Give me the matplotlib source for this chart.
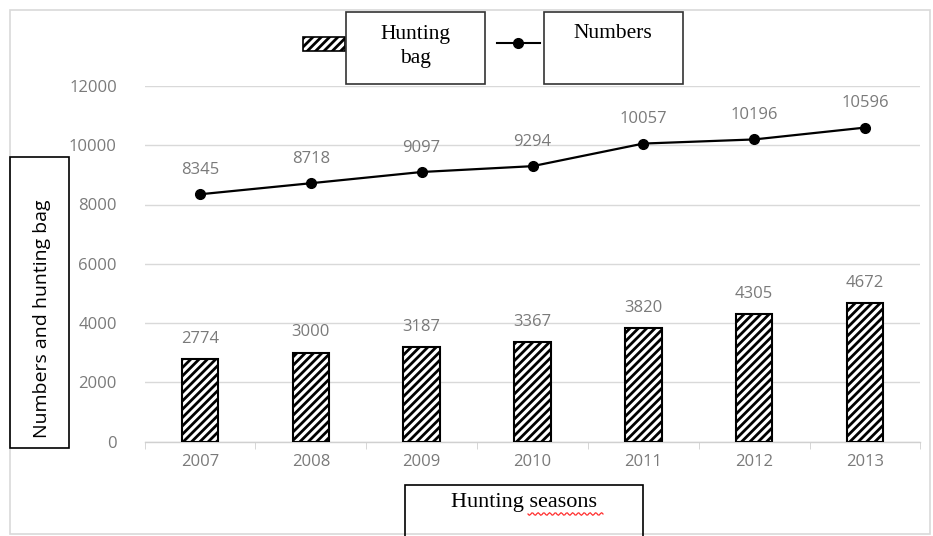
import matplotlib
matplotlib.use("Agg")
import matplotlib.pyplot as plt
from matplotlib.patches import Rectangle
from matplotlib.lines import Line2D
import numpy as np

seasons = ["2007", "2008", "2009", "2010", "2011", "2012", "2013"]
hunting_bag = [2774, 3000, 3187, 3367, 3820, 4305, 4672]
numbers = [8345, 8718, 9097, 9294, 10057, 10196, 10596]
y_ticks = [0, 2000, 4000, 6000, 8000, 10000, 12000]

W, H = 933, 536
plt.rcParams['hatch.linewidth'] = 2.0
fig = plt.figure(figsize=(W / 100, H / 100), dpi=100)
fig.patch.set_facecolor('white')

def fx(px):
    return px / W

def fy(py):
    return 1 - py / H

# outer chart border
fig.add_artist(Rectangle((fx(10), fy(534)), fx(920), (524) / H, transform=fig.transFigure,
                         fill=False, edgecolor='#d9d9d9', linewidth=1.2))

ax = fig.add_axes([fx(144.6), fy(441.5), 775.8 / W, 355.5 / H])
x = np.arange(len(seasons))
gray = '#7a7a7a'
sans = ['Open Sans', 'DejaVu Sans']
serif = ['Liberation Serif', 'DejaVu Serif']

ax.bar(x, hunting_bag, width=0.33, color='white', edgecolor='black', hatch='////',
       linewidth=1.5, zorder=3)
ax.plot(x, numbers, color='black', linewidth=1.6, marker='o', markersize=7,
        zorder=4)

for xi, v in zip(x, hunting_bag):
    ax.annotate(str(v), (xi, v), xytext=(0, 14.5), textcoords='offset points',
                ha='center', va='center', color=gray, fontsize=12, family=sans)
for xi, v in zip(x, numbers):
    ax.annotate(str(v), (xi, v), xytext=(0, 17.5), textcoords='offset points',
                ha='center', va='center', color=gray, fontsize=12, family=sans)

ax.set_xlim(-0.5, len(seasons) - 0.5)
ax.set_ylim(0, 12000)
ax.set_yticks(y_ticks)
ax.set_yticklabels([str(t) for t in y_ticks], family=sans, fontsize=12, color=gray)
ax.set_xticks(x)
ax.set_xticklabels(seasons, family=sans, fontsize=12, color=gray)
ax.set_xticks(np.arange(-0.5, len(seasons)), minor=True)
ax.tick_params(axis='x', which='major', length=0, pad=9)
ax.tick_params(axis='x', which='minor', length=5, color='#d0d0d0', direction='out')
ax.tick_params(axis='y', length=0, pad=20)
ax.grid(axis='y', color='#d9d9d9', linewidth=1, zorder=0)
ax.set_axisbelow(True)
for s in ['top', 'right', 'left']:
    ax.spines[s].set_visible(False)
ax.spines['bottom'].set_color('#d0d0d0')
ax.spines['bottom'].set_linewidth(1)
ax.patch.set_alpha(0)

# legend
fig.add_artist(Rectangle((fx(303), fy(51)), 42 / W, 14 / H, transform=fig.transFigure,
                         facecolor='white', edgecolor='black', hatch='////', linewidth=1.2))
fig.add_artist(Rectangle((fx(345.5), fy(83.5)), 139.5 / W, 71.5 / H, transform=fig.transFigure,
                         fill=False, edgecolor='#333333', linewidth=1.2))
fig.text(fx(415), fy(34), "Hunting", ha='center', va='center', family=serif, fontsize=15.5)
fig.text(fx(415), fy(59), "bag", ha='center', va='center', family=serif, fontsize=15.5)
fig.add_artist(Line2D([fx(497), fx(540)], [fy(43), fy(43)], transform=fig.transFigure,
                      color='black', linewidth=1.5, marker=None))
fig.add_artist(Line2D([fx(518)], [fy(43)], transform=fig.transFigure,
                      color='black', marker='o', markersize=7, linestyle='none'))
fig.add_artist(Rectangle((fx(543.5), fy(83.5)), 139.5 / W, 71.5 / H, transform=fig.transFigure,
                         fill=False, edgecolor='#333333', linewidth=1.2))
fig.text(fx(613), fy(34), "Numbers", ha='center', va='center', family=serif, fontsize=15.5)

# y label box
fig.add_artist(Rectangle((fx(9.5), fy(448)), 59.5 / W, 291 / H, transform=fig.transFigure,
                         fill=False, edgecolor='black', linewidth=1.2))
fig.text(fx(42), fy(319), "Numbers and hunting bag", rotation=90, ha='center', va='center',
         family=sans, fontsize=14, color='black')

# x label box
fig.add_artist(Rectangle((fx(405), fy(540)), 238 / W, 55 / H, transform=fig.transFigure,
                         fill=False, edgecolor='black', linewidth=1.2, clip_on=False))
fig.text(fx(524), fy(503), "Hunting seasons", ha='center', va='center',
         family=serif, fontsize=16)
wx = np.linspace(528, 603, 60)
wy = 514 + 1.3 * np.sin((wx - 528) / 75 * 2 * np.pi * 13)
fig.add_artist(Line2D(fx(wx), fy(wy), transform=fig.transFigure, color='#ff3030', linewidth=0.9))

fig.savefig("out.png", dpi=100, facecolor='white')
